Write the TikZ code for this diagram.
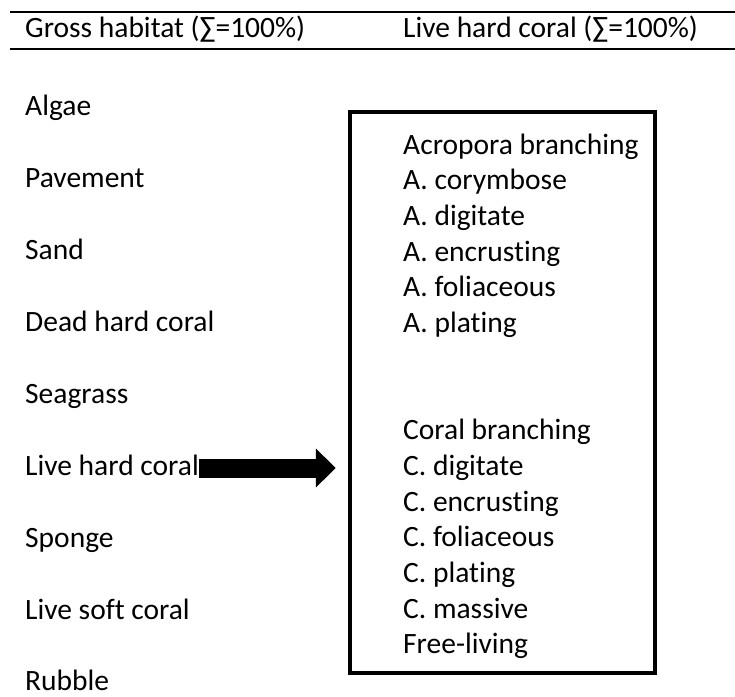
\documentclass[tikz,border=0pt]{standalone}
\usepackage{fontspec}
\setmainfont{Carlito}[Ligatures={NoCommon}]
\usetikzlibrary{arrows.meta}

\begin{document}
\begin{tikzpicture}[x=1pt,y=-1pt]
    \tikzstyle{every node}=[inner sep=0pt,anchor=base west,font=\fontsize{29.5}{35}\selectfont];
    \tikzstyle{tablerule}=[line width=2pt];
    \tikzstyle{coralbox}=[draw,line width=4.5pt,anchor=center,minimum width=305pt,minimum height=561pt];
    \tikzstyle{bigarrow}=[-{Triangle[length=20pt,width=38pt]},line width=19pt];
    \useasboundingbox (0,0) rectangle (735,696);

    % table header
    \draw[tablerule] (10,12) -- (735,12);
    \draw[tablerule] (10,49) -- (735,49);
    \node at (25, 37)  (hd0) {Gross habitat (∑=100\%)};
    \node at (403, 37) (hd1) {Live hard coral (∑=100\%)};

    % gross habitat
    \node at (25, 115) (h0) {Algae};
    \node at (25, 187) (h1) {Pavement};
    \node at (25, 259) (h2) {Sand};
    \node at (25, 331) (h3) {Dead hard coral};
    \node at (25, 403) (h4) {Seagrass};
    \node at (25, 475) (h5) {Live hard coral};
    \node at (25, 547) (h6) {Sponge};
    \node at (25, 619) (h7) {Live soft coral};
    \node at (25, 690) (h8) {Rubble};

    % live hard coral
    \node[coralbox] at (502.5, 392.5) (lhcbox) {};
    \node at (403, 154)   (c0)  {Acropora branching};
    \node at (403, 189.7) (c1)  {A. corymbose};
    \node at (403, 225.4) (c2)  {A. digitate};
    \node at (403, 261.1) (c3)  {A. encrusting};
    \node at (403, 296.8) (c4)  {A. foliaceous};
    \node at (403, 332.5) (c5)  {A. plating};
    \node at (403, 439.6) (c6)  {Coral branching};
    \node at (403, 475.3) (c7)  {C. digitate};
    \node at (403, 511)   (c8)  {C. encrusting};
    \node at (403, 546.7) (c9)  {C. foliaceous};
    \node at (403, 582.4) (c10) {C. plating};
    \node at (403, 618.1) (c11) {C. massive};
    \node at (403, 653.8) (c12) {Free-living};

    \coordinate (tail) at ([yshift=7pt]h5.base east);
    \coordinate (tip) at (tail -| lhcbox.west);
    \draw[bigarrow,shorten >=12pt] (tail) -- (tip);
\end{tikzpicture}
\end{document}
